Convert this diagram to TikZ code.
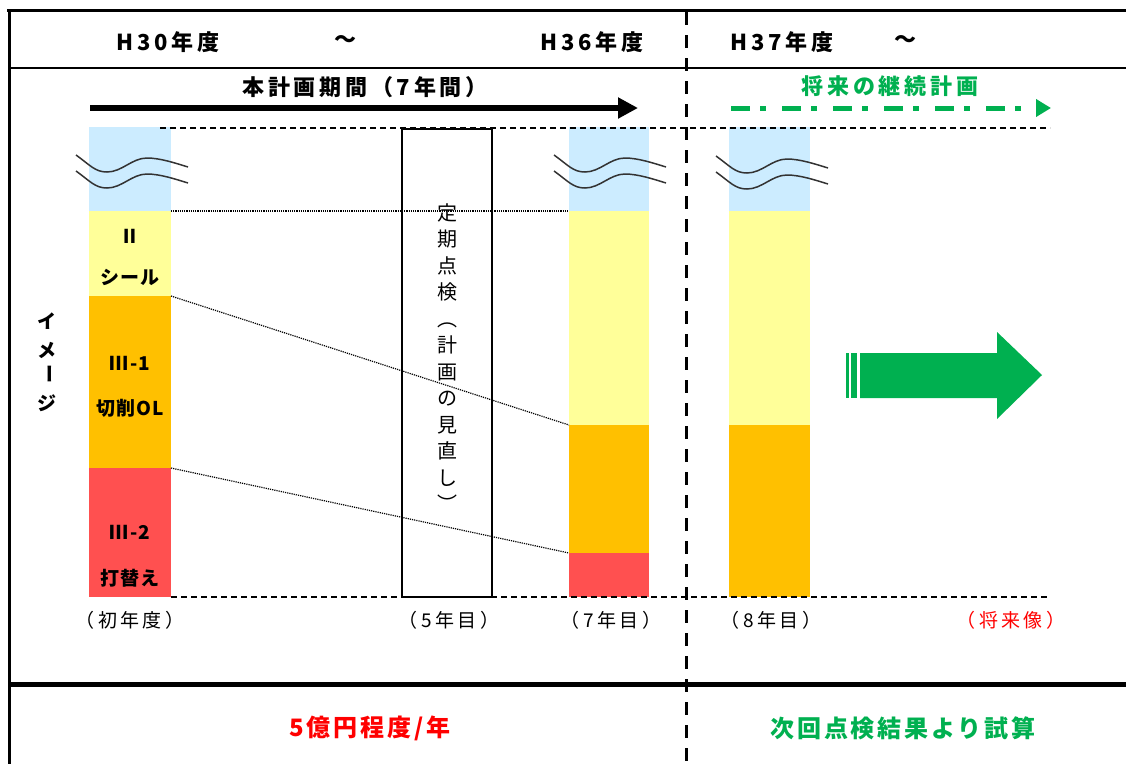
\documentclass[tikz,border=0pt]{standalone}
\usepackage{fontspec}
\setmainfont{Noto Sans CJK JP}
\usetikzlibrary{arrows.meta,calc}
\definecolor{cblue}{HTML}{CCECFF}
\definecolor{cyel}{HTML}{FFFF99}
\definecolor{corg}{HTML}{FFC000}
\definecolor{cred}{HTML}{FF5050}
\definecolor{cgrn}{HTML}{00B050}
\definecolor{tred}{HTML}{FF0000}
\begin{document}
\begin{tikzpicture}[x=1pt,y=-1pt,
  hdr/.style={font=\fontsize{22}{26}\selectfont\bfseries\addfontfeature{LetterSpace=17}},
  ttl/.style={font=\fontsize{22}{26}\selectfont\bfseries\addfontfeature{LetterSpace=17}},
  barlbl/.style={font=\fontsize{19}{22}\selectfont\bfseries\addfontfeature{LetterSpace=6}},
  yrlbl/.style={font=\fontsize{19}{22}\selectfont\addfontfeature{LetterSpace=18}},
  btm/.style={font=\fontsize{24}{28}\selectfont\bfseries\addfontfeature{LetterSpace=12}},
  dotln/.style={densely dotted, line width=1.2pt},
  dashln/.style={dash pattern=on 6pt off 4pt, line width=1.2pt},
  brk/.pic={\draw[line width=1.5pt, black!80]
     (0,0) .. controls (14,10) and (19,17) .. (31,17) .. controls (46,17) and (56,3) .. (71,3) .. controls (84,3) and (99,8) .. (112,12)
     (0,16) .. controls (14,26) and (19,33) .. (31,33) .. controls (46,33) and (56,19) .. (71,19) .. controls (84,19) and (99,24) .. (112,28);}
]
\useasboundingbox (0,0) rectangle (1126,764);
\fill[white] (0,0) rectangle (1126,764);

% bars
\fill[cblue] (89,127) rectangle (171,211);
\fill[cyel] (89,211) rectangle (171,296);
\fill[corg] (89,296) rectangle (171,468);
\fill[cred] (89,468) rectangle (171,597);

\fill[cblue] (569,127) rectangle (649,211);
\fill[cyel] (569,211) rectangle (649,425);
\fill[corg] (569,425) rectangle (649,553);
\fill[cred] (569,553) rectangle (649,597);

\fill[cblue] (729,127) rectangle (810,211);
\fill[cyel] (729,211) rectangle (810,425);
\fill[corg] (729,425) rectangle (810,597);

\coordinate (a1) at (171,211); \coordinate (b1) at (569,211);
\coordinate (a2) at (171,296); \coordinate (b2) at (569,425);
\coordinate (a3) at (171,468); \coordinate (b3) at (569,553);

% guide lines
\coordinate (tl) at (160,128); \coordinate (tr) at (1050,128);
\coordinate (bl) at (171,597); \coordinate (br) at (1050,597);
\draw[dashln] (tl) -- (tr);
\draw[dashln] (bl) -- (br);
\draw[dotln] (a1) -- (b1);
\draw[dotln] (a2) -- (b2);
\draw[dotln] (a3) -- (b3);

% break symbols
\pic at (76,155) {brk};
\pic at (554,155) {brk};
\pic at (716,156) {brk};

% inspection box
\node[draw, line width=1.5pt, minimum width=90pt, minimum height=468pt, anchor=north west, inner sep=0pt] (box) at (401,128) {};
\node[font=\fontsize{20}{26.5}\selectfont, align=center, anchor=north] (boxt) at (447,200) {定\\期\\点\\検\\︵\\計\\画\\の\\見\\直\\し\\︶};

% bar labels
\node[barlbl] (l1) at (130,236) {Ⅱ};
\node[barlbl] (l2) at (130,277) {シール};
\node[barlbl] (l3) at (130,363) {Ⅲ-1};
\node[barlbl] (l4) at (130,408) {切削OL};
\node[barlbl] (l5) at (130,532) {Ⅲ-2};
\node[barlbl] (l6) at (130,578) {打替え};

% image label
\node[barlbl] (im1) at (47,321) {イ};
\node[barlbl] (im2) at (47,350) {メ};
\node[barlbl, rotate=-90] (im3) at (47,374) {ー};
\node[barlbl] (im4) at (47,403) {ジ};

% year labels
\node[yrlbl] (y1) at (130,620) {（初年度）};
\node[yrlbl] (y5) at (449,620) {（5年目）};
\node[yrlbl] (y7) at (611,620) {（7年目）};
\node[yrlbl] (y8) at (771,620) {（8年目）};
\node[yrlbl, text=tred] (yf) at (1011,620) {（将来像）};

% header
\node[hdr] (h30) at (168,42) {H30年度};
\node[hdr] (t1) at (345,42) {～};
\node[hdr] (h36) at (592,42) {H36年度};
\node[hdr] (h37) at (782,42) {H37年度};
\node[hdr] (t2) at (905,42) {～};

% period arrows
\node[ttl] (p1) at (365,87) {本計画期間（7年間）};
\coordinate (pa) at (90,108); \coordinate (pb) at (638,108);
\draw[line width=6pt, -{Triangle[length=20pt,width=20pt]}] (pa) -- (pb);
\node[ttl, text=cgrn] (p2) at (890,86) {将来の継続計画};
\coordinate (ga) at (731,108); \coordinate (gb) at (1051,108);
\draw[cgrn, line width=5pt, dash pattern=on 19pt off 10pt on 6pt off 16pt, -{Triangle[length=15pt,width=17pt]}] (ga) -- (gb);

% green arrow
\fill[cgrn] (860,353) -- (997,353) -- (997,332) -- (1042,375) -- (997,419) -- (997,398) -- (860,398) -- cycle;
\fill[cgrn] (846,353) rectangle (849,398);
\fill[cgrn] (851,353) rectangle (857,398);

% bottom texts
\node[btm, text=tred] (c1) at (370,728) {5億円程度/年};
\node[btm, text=cgrn] (c2) at (903,728) {次回点検結果より試算};

% frame
\coordinate (f1) at (7,10); \coordinate (f2) at (1126,10);
\coordinate (f3) at (9,10); \coordinate (f4) at (9,764);
\draw[line width=3pt] (f1) -- (f2);
\draw[line width=3pt] (f3) -- (f4);
\coordinate (h1) at (9,68); \coordinate (h2) at (1126,68);
\draw[line width=2pt] (h1) -- (h2);
\coordinate (k1) at (9,684); \coordinate (k2) at (1126,684);
\draw[line width=5pt] (k1) -- (k2);
\coordinate (v1) at (686,12); \coordinate (v2) at (686,764);
\draw[line width=3pt, dash pattern=on 13pt off 10pt] (v1) -- (v2);
\end{tikzpicture}
\end{document}
